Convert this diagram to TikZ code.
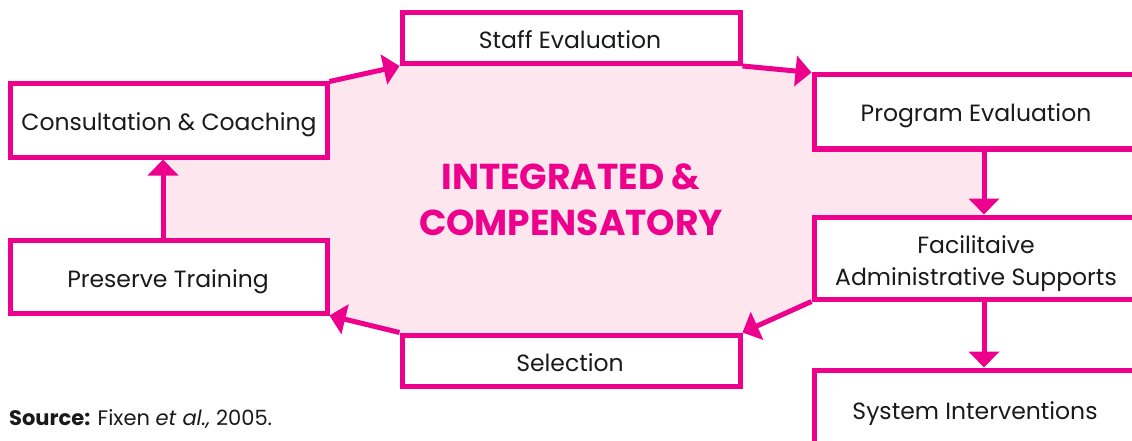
\documentclass[tikz,border=0pt]{standalone}
\usepackage{fontspec}
\setmainfont{Poppins}
\usetikzlibrary{arrows.meta}
\definecolor{mag}{HTML}{EC008C}
\definecolor{pinkfill}{HTML}{FDE6EE}
\definecolor{txt}{HTML}{1A1A1A}
\begin{document}
\begin{tikzpicture}[x=1pt,y=-1pt,
  box/.style={draw=mag,line width=5pt,fill=white,rectangle,inner sep=0pt,align=center,
    text=txt,font=\fontsize{23.5}{32}\selectfont},
  lbl/.style={inner sep=0pt,align=center,text=txt,font=\fontsize{23.5}{32}\selectfont},
  arr/.style={draw=mag,line width=5pt,-{Triangle[length=16pt,width=30pt]}}]
\useasboundingbox (0,0) rectangle (1132,441);
\clip (0,0) rectangle (1132,441);
\fill[pinkfill] (163,84) -- (327,84) -- (402,63.5) -- (740,63.5) -- (814,75) -- (984,75)
  -- (984,299) -- (814,299) -- (740,335) -- (402,335) -- (327,313) -- (163,313) -- cycle;
\node[box,minimum width=338pt,minimum height=51pt] (staff) at (571,38) {};
\node[box,minimum width=316.5pt,minimum height=73pt] (cons) at (168.75,120.5) {};
\node[box,minimum width=322pt,minimum height=74pt] (prog) at (975,112) {};
\node[box,minimum width=322pt,minimum height=82pt] (fac) at (975,258) {};
\node[box,minimum width=316.5pt,minimum height=73pt] (pres) at (168.75,276.5) {};
\node[box,minimum width=338pt,minimum height=51pt] (sel) at (571,360.5) {};
\node[box,minimum width=322pt,minimum height=80pt] (sys) at (975,410) {};
\node[lbl,anchor=base] (staffT) at (570,49) {Staff Evaluation};
\node[lbl,anchor=base] (consT) at (169,131) {Consultation \& Coaching};
\node[lbl,anchor=base] (progT) at (976,122) {Program Evaluation};
\node[lbl,anchor=base] (facT) at (976,253) {Facilitaive};
\node[lbl,anchor=base] (facT2) at (976,285) {Administrative Supports};
\node[lbl,anchor=base] (presT) at (168,287) {Preserve Training};
\node[lbl,anchor=base] (selT) at (570,371) {Selection};
\node[lbl,anchor=base] (sysT) at (975,419) {System Interventions};
\node[text=mag,font=\fontsize{36}{46}\selectfont\bfseries,anchor=base,inner sep=0pt] (title1) at (571,189) {INTEGRATED \&};
\node[text=mag,font=\fontsize{36}{46}\selectfont\bfseries,anchor=base,inner sep=0pt] (title2) at (571,235) {COMPENSATORY};
\node[anchor=base west,inner sep=0pt,text=txt,font=\fontsize{21}{24}\selectfont] (src) at (9,425)
  {\textbf{Source:} Fixen \textit{et al.,} 2005.};
\draw[arr] (cons.north east) -- (staff.south west);
\draw[arr] (staff.south east) -- (prog.north west);
\draw[arr] (prog.south -| 984,0) -- (fac.north -| 984,0);
\draw[arr] (fac.south west) -- (sel.north east);
\draw[arr] (fac.south -| 984,0) -- (sys.north -| 984,0);
\draw[arr] (sel.north west) -- (pres.south east);
\draw[arr] (pres.north -| 163,0) -- (cons.south -| 163,0);
\end{tikzpicture}
\end{document}
